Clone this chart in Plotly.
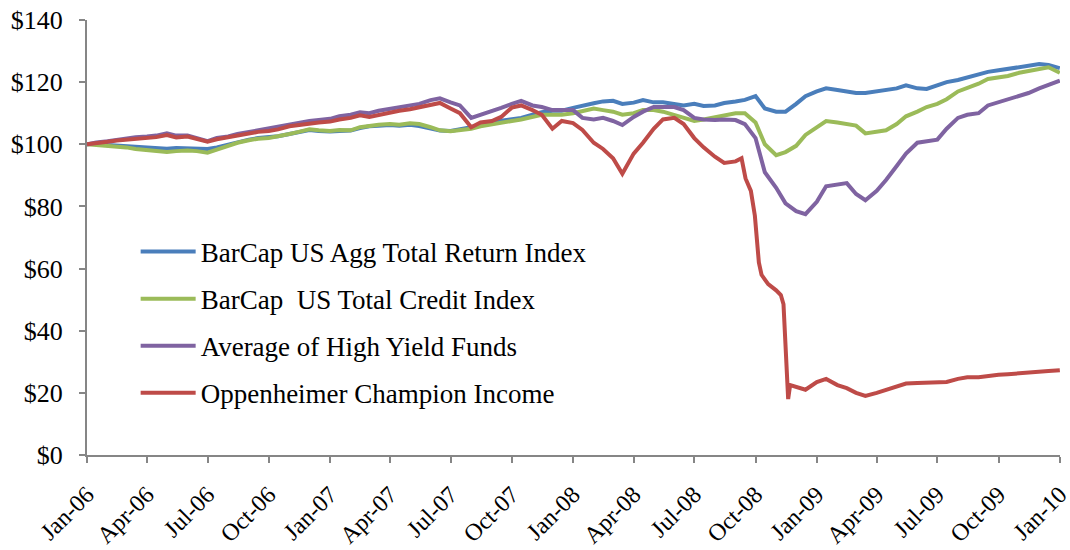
import plotly.graph_objects as go

# semi-monthly observation dates (1st and 15th) Jan-06 .. Jan-10
dates = [f"{y}-{m:02d}-{d:02d}" for y in range(2006, 2010) for m in range(1, 13) for d in (1, 15)] + ["2010-01-01"]

barcap_agg = [
    100.0, 100.2, 99.8, 99.6, 99.3, 99.0, 98.8, 98.7, 98.6, 98.8, 98.8, 98.7,
    98.5, 99.0, 100.0, 100.8, 101.5, 102.0, 102.3, 102.6, 103.3, 104.0, 104.6, 104.3,
    104.1, 104.3, 104.4, 105.2, 105.8, 106.0, 106.2, 106.0, 106.3, 105.9, 105.2, 104.4,
    104.3, 104.8, 105.5, 106.3, 106.8, 107.6, 108.0, 108.5, 109.5, 110.3, 110.8, 110.8,
    111.7, 112.5, 113.2, 113.8, 114.0, 113.0, 113.4, 114.2, 113.5, 113.5, 112.8, 112.5,
    113.0, 112.3, 112.5, 113.3, 113.8, 114.3, 115.5, 111.5, 110.5, 110.5, 113.0, 115.5,
    117.0, 118.0, 117.5, 117.0, 116.5, 116.5, 117.0, 117.5, 118.0, 119.0, 118.0, 117.8,
    119.0, 120.0, 120.7, 121.5, 122.5, 123.3, 123.8, 124.3, 124.8, 125.2, 125.8, 125.5,
    124.5,
]

barcap_credit = [
    100.0, 99.8, 99.5, 99.3, 99.0, 98.5, 98.2, 97.8, 97.5, 97.8, 98.0, 97.8,
    97.3, 98.3, 99.5, 100.5, 101.3, 101.8, 102.0, 102.5, 103.3, 104.0, 104.8, 104.5,
    104.3, 104.6, 104.5, 105.5, 106.0, 106.3, 106.5, 106.3, 106.8, 106.5, 105.5, 104.5,
    104.2, 104.5, 105.0, 105.8, 106.3, 107.0, 107.5, 108.0, 109.0, 109.5, 109.5, 109.5,
    110.0, 110.8, 111.5, 111.0, 110.5, 109.5, 110.0, 111.0, 111.0, 110.5, 109.5, 108.5,
    107.5, 108.0, 108.8, 109.5, 110.0, 110.0, 107.0, 100.0, 96.5, 97.5, 99.5, 103.0,
    105.5, 107.5, 107.0, 106.5, 106.0, 103.5, 104.0, 104.5, 106.5, 109.0, 110.5, 112.0,
    113.0, 114.5, 117.0, 118.0, 119.5, 121.0, 121.5, 122.0, 123.0, 123.5, 124.0, 124.8,
    123.0,
]

high_yield_avg = [
    100.0, 100.6, 101.0, 101.5, 101.8, 102.3, 102.5, 102.8, 103.5, 102.8, 102.8, 101.8,
    101.0, 102.0, 102.5, 103.3, 104.0, 104.5, 105.0, 105.6, 106.5, 107.0, 107.5, 107.8,
    108.2, 109.0, 109.5, 110.3, 110.0, 110.8, 111.5, 112.0, 112.5, 113.0, 114.2, 114.8,
    113.5, 112.5, 108.5, 109.5, 110.5, 111.7, 113.0, 114.0, 112.5, 112.0, 111.0, 111.0,
    111.0, 108.5, 108.0, 108.5, 107.5, 106.2, 108.8, 110.5, 112.0, 112.0, 112.0, 111.0,
    108.5, 108.0, 107.8, 108.0, 107.8, 106.5, 102.0, 91.0, 86.0, 81.0, 78.5, 77.5,
    81.5, 86.5, 87.0, 87.5, 84.0, 82.0, 85.0, 88.5, 93.0, 97.0, 100.5, 101.0,
    101.5, 105.0, 108.5, 109.5, 110.0, 112.5, 113.5, 114.5, 115.5, 116.5, 118.0, 119.0,
    120.5,
]

# Oppenheimer has extra observations around the late-2008 collapse
opp_dates = [
    "2006-01-01", "2006-01-15", "2006-02-01", "2006-02-15", "2006-03-01", "2006-03-15",
    "2006-04-01", "2006-04-15", "2006-05-01", "2006-05-15", "2006-06-01", "2006-06-15",
    "2006-07-01", "2006-07-15", "2006-08-01", "2006-08-15", "2006-09-01", "2006-09-15",
    "2006-10-01", "2006-10-15", "2006-11-01", "2006-11-15", "2006-12-01", "2006-12-15",
    "2007-01-01", "2007-01-15", "2007-02-01", "2007-02-15", "2007-03-01", "2007-03-15",
    "2007-04-01", "2007-04-15", "2007-05-01", "2007-05-15", "2007-06-01", "2007-06-15",
    "2007-07-01", "2007-07-15", "2007-08-01", "2007-08-15", "2007-09-01", "2007-09-15",
    "2007-10-01", "2007-10-15", "2007-11-01", "2007-11-15", "2007-12-01", "2007-12-15",
    "2008-01-01", "2008-01-15", "2008-02-01", "2008-02-15", "2008-03-01", "2008-03-15",
    "2008-04-01", "2008-04-15", "2008-05-01", "2008-05-15", "2008-06-01", "2008-06-15",
    "2008-07-01", "2008-07-15", "2008-08-01", "2008-08-15", "2008-09-01", "2008-09-10",
    "2008-09-16", "2008-09-24", "2008-09-30", "2008-10-06", "2008-10-10", "2008-10-20",
    "2008-11-01", "2008-11-08", "2008-11-12", "2008-11-14", "2008-11-17", "2008-11-19",
    "2008-11-22", "2008-12-01", "2008-12-15",
    "2009-01-01", "2009-01-15", "2009-02-01", "2009-02-15", "2009-03-01", "2009-03-15",
    "2009-04-01", "2009-04-15", "2009-05-01", "2009-05-15", "2009-06-01", "2009-06-15",
    "2009-07-01", "2009-07-15", "2009-08-01", "2009-08-15", "2009-09-01", "2009-09-15",
    "2009-10-01", "2009-10-15", "2009-11-01", "2009-11-15", "2009-12-01", "2009-12-15",
    "2010-01-01",
]
opp_champion = [
    100.0, 100.5, 100.8, 101.2, 101.5, 101.8, 102.0, 102.3, 103.0, 102.2, 102.5, 101.8,
    100.8, 101.6, 102.3, 103.0, 103.5, 104.0, 104.3, 104.8, 105.8, 106.2, 106.8, 107.0,
    107.3, 108.0, 108.5, 109.3, 108.8, 109.5, 110.3, 110.8, 111.3, 112.0, 112.8, 113.3,
    111.5, 110.0, 105.5, 107.0, 107.5, 108.8, 111.8, 112.5, 111.0, 109.5, 105.0, 107.5,
    106.8, 104.6, 100.5, 98.5, 95.5, 90.5, 97.0, 100.5, 105.0, 108.0, 108.5, 106.5,
    102.0, 99.0, 96.0, 94.0, 94.5, 95.5,
    89.0, 85.0, 77.0, 62.0, 58.0, 55.0,
    53.0, 51.5, 48.5, 40.0, 24.0, 18.0,
    22.5, 22.0, 21.0,
    23.5, 24.5, 22.5, 21.5, 20.0, 19.0, 20.0, 21.0, 22.0, 23.0, 23.2, 23.2,
    23.5, 23.5, 24.5, 25.0, 25.0, 25.5, 25.8, 26.0, 26.2, 26.5, 26.8, 27.0,
    27.3,
]

names = ["BarCap US Agg Total Return Index", "BarCap &nbsp;US Total Credit Index",
         "Average of High Yield Funds", "Oppenheimer Champion Income"]
colors = ["#4A7EBB", "#9BBB59", "#7F63A1", "#BE4B48"]

tick_dates = [f"{y}-{m:02d}-01" for y in range(2006, 2010) for m in (1, 4, 7, 10)] + ["2010-01-01"]
y_ticks = [0, 20, 40, 60, 80, 100, 120, 140]
y_labels = ["$" + str(v) for v in y_ticks]

serif = "Liberation Serif, Times New Roman, serif"
axis_col = "#868686"

fig = go.Figure()
series = [(dates, barcap_agg), (dates, barcap_credit), (dates, high_yield_avg), (opp_dates, opp_champion)]
for i, (xs, ys) in enumerate(series):
    fig.add_trace(go.Scatter(x=xs, y=ys, mode="lines", name=names[i],
                             legendgroup=str(i), line=dict(color=colors[i], width=4)))

fig.update_layout(
    width=1070, height=550,
    margin=dict(l=87, r=10, t=20, b=95),
    paper_bgcolor="white", plot_bgcolor="white",
    font=dict(family=serif, size=26, color="black"),
    showlegend=True,
    legend=dict(x=0.05, y=0.523, xanchor="left", yanchor="top", bgcolor="rgba(0,0,0,0)",
                font=dict(family=serif, size=27, color="black"), tracegroupgap=9, itemwidth=55),
    xaxis=dict(type="date", range=["2006-01-01", "2010-01-01 06:00"], tickvals=tick_dates,
               tickformat="%b-%y", tickangle=-45, tickfont=dict(family=serif, size=24),
               automargin=False, ticklabeloverflow="allow", ticklabelstandoff=8,
               showgrid=False, zeroline=False, showline=True, linecolor=axis_col, linewidth=2,
               ticks="outside", ticklen=6, tickcolor=axis_col, tickwidth=2),
    yaxis=dict(range=[0, 140], tickvals=y_ticks, ticktext=y_labels, automargin=False,
               ticklabelstandoff=11,
               tickfont=dict(family=serif, size=26), showgrid=False, zeroline=False, showline=True,
               linecolor=axis_col, linewidth=2, ticks="outside", ticklen=6,
               tickcolor=axis_col, tickwidth=2),
)

fig.write_html("out.html", config={"displayModeBar": False},
               post_script="document.body.style.margin='0';")
